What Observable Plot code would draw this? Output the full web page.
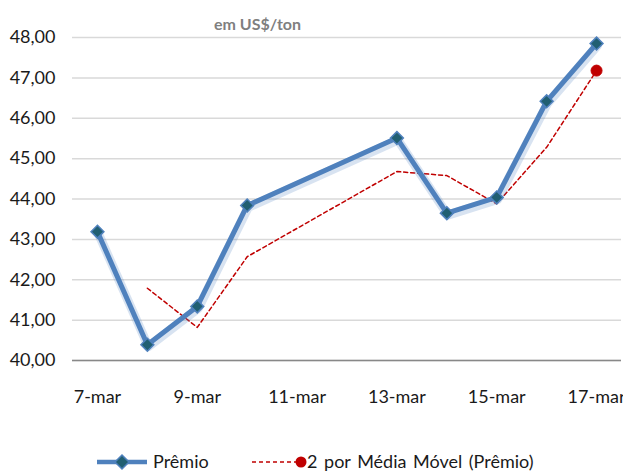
<!DOCTYPE html>
<html>
<head>
<meta charset="utf-8">
<script src="https://cdn.jsdelivr.net/npm/d3@7"></script>
<script src="https://cdn.jsdelivr.net/npm/@observablehq/plot@0.6"></script>
<style>
  body { margin: 0; background: #fff; font-family: Lato, sans-serif; }
  #wrap { position: relative; width: 623px; height: 471px; overflow: hidden; background: #fff; }
  #chart { position: absolute; left: 0; top: 0; }
  #sub { position: absolute; top: 14px; left: 0; width: 515px; text-align: center;
         font-size: 16px; line-height: 20px; font-weight: bold; color: #7f7f7f; }
  .leg { position: absolute; top: 450px; font-size: 18px; line-height: 22px; color: #1a1a1a; white-space: nowrap; }
  #legsw { position: absolute; left: 0; top: 440px; }
</style>
</head>
<body>
<div id="wrap">
  <div id="chart"></div>
  <div id="sub">em US$/ton</div>
  <svg id="legsw" width="623" height="31"></svg>
  <div class="leg" style="left:153px">Prêmio</div>
  <div class="leg" style="left:307px; word-spacing:2px">2 por Média Móvel (Prêmio)</div>
</div>
<script>
// ---- data ----
const days = [7, 8, 9, 10, 13, 14, 15, 16, 17];
const premio = [43.19, 40.39, 41.34, 43.84, 45.51, 43.65, 44.04, 46.42, 47.85];
const mmDays = [8, 9, 10, 13, 14, 15, 16, 17];
const mediaMovel = [41.79, 40.82, 42.57, 44.68, 44.58, 43.88, 45.28, 47.18];
const xTicks = [7, 9, 11, 13, 15, 17];
const xTickLabels = ["7-mar", "9-mar", "11-mar", "13-mar", "15-mar", "17-mar"];
const yTicks = [40, 41, 42, 43, 44, 45, 46, 47, 48];
const yTickLabels = ["40,00", "41,00", "42,00", "43,00", "44,00", "45,00", "46,00", "47,00", "48,00"];
const seriesNames = ["Prêmio", "2 por Média Móvel (Prêmio)"];

const premioData = days.map((d, i) => ({day: d, value: premio[i]}));
const mmData = mmDays.map((d, i) => ({day: d, value: mediaMovel[i]}));
const lastMM = [mmData[mmData.length - 1]];

const blue = "#4f81bd", teal = "#215f72", red = "#c00000";

const plot = Plot.plot({
  width: 623,
  height: 440,
  marginTop: 37,
  marginBottom: 80,
  marginLeft: 72,
  marginRight: 2,
  style: {fontFamily: "Lato, sans-serif", fontSize: "18px", color: "#1a1a1a", background: "transparent", overflow: "visible"},
  x: {domain: [6.5, 17.5]},
  y: {domain: [40, 48]},
  marks: [
    Plot.gridY(yTicks, {stroke: "#d9d9d9", strokeOpacity: 1, strokeWidth: 1.5}),
    Plot.ruleY([40], {stroke: "#888", strokeWidth: 1.5}),
    Plot.axisY({ticks: yTicks, tickSize: 0, tickPadding: 17, label: null,
      tickFormat: v => yTickLabels[yTicks.indexOf(v)]}),
    Plot.axisX({ticks: xTicks, tickSize: 0, tickPadding: 30, label: null,
      tickFormat: v => xTickLabels[xTicks.indexOf(v)]}),
    Plot.line(mmData, {x: "day", y: "value", stroke: red, strokeWidth: 1.5, strokeDasharray: "4,3"}),
    Plot.dot(lastMM, {x: "day", y: "value", r: 5.5, fill: red, stroke: red, strokeWidth: 1}),
    Plot.line(premioData, {x: "day", y: "value", stroke: blue, strokeWidth: 9, strokeOpacity: 0.22, dx: 1, dy: 2}),
    Plot.line(premioData, {x: "day", y: "value", stroke: blue, strokeWidth: 5}),
    Plot.dot(premioData, {x: "day", y: "value", symbol: "diamond2", r: 5.8, fill: teal, stroke: blue, strokeWidth: 1.5})
  ]
});
document.getElementById("chart").appendChild(plot);

// legend swatches
const sw = d3.select("#legsw");
sw.append("line").attr("x1", 97).attr("x2", 147).attr("y1", 22).attr("y2", 22)
  .attr("stroke", blue).attr("stroke-width", 4.5);
sw.append("path").attr("d", "M122,15 L129,22 L122,29 L115,22 Z")
  .attr("fill", teal).attr("stroke", blue).attr("stroke-width", 1.5);
sw.append("line").attr("x1", 252).attr("x2", 298).attr("y1", 22).attr("y2", 22)
  .attr("stroke", red).attr("stroke-width", 1.5).attr("stroke-dasharray", "4,3");
sw.append("circle").attr("cx", 301).attr("cy", 22).attr("r", 5.5).attr("fill", red);
</script>
</body>
</html>
